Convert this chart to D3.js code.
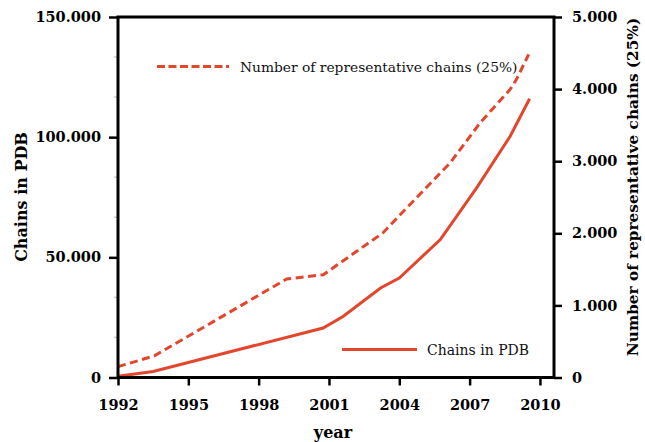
<!DOCTYPE html>
<html><head><meta charset="utf-8">
<script src="https://cdn.jsdelivr.net/npm/d3@7"></script>
<style>html,body{margin:0;padding:0;background:#fff;} svg{display:block;}</style>
</head><body>
<svg id="c" width="645" height="442"></svg>
<script>
// Chains in PDB (left axis)
const pdbYears  = [1992.0, 1993.5, 2000.75, 2001.6, 2003.2, 2004.0, 2005.75, 2007.3, 2008.73, 2009.56];
const pdbValues = [500, 2500, 20600, 25400, 37250, 41400, 57400, 78900, 100400, 116000];
// Number of representative chains (25%) (right axis)
const repYears  = [1992.0, 1993.55, 1999.2, 2000.76, 2003.3, 2004.18, 2006.17, 2007.45, 2008.73, 2009.0, 2009.52];
const repValues = [150, 300, 1367, 1426, 2005, 2306, 2978, 3533, 3996, 4135, 4482];

const xTicks = [1992, 1995, 1998, 2001, 2004, 2007, 2010];
const leftTicks = [0, 50000, 100000, 150000];
const leftMinor = [16667, 33333, 66667, 83333, 116667, 133333];
const rightTicks = [0, 1000, 2000, 3000, 4000, 5000];

const color = "#e2462c";
const svg = d3.select("#c");
const L = 118, R = 554, T = 17, B = 377.5;

const x = d3.scaleLinear().domain([1992, 2010.6]).range([L, R]);
const yL = d3.scaleLinear().domain([0, 150000]).range([B, T]);
const yR = d3.scaleLinear().domain([0, 5000]).range([B, T]);

const loc = d3.formatLocale({decimal: ",", thousands: ".", grouping: [3], currency: ["", ""]});
const fmt = loc.format(",");

const tickFont = "DejaVu Serif";

function styleAxis(g) {
  g.select(".domain").remove();
  g.selectAll(".tick line").attr("stroke", "#000").attr("stroke-width", 2.5);
  g.selectAll(".tick text").attr("font-family", tickFont).attr("font-weight", "bold")
    .attr("font-size", 14.5).attr("fill", "#000");
}

// minor left ticks
svg.append("g").selectAll("line").data(leftMinor).join("line")
  .attr("x1", L - 4).attr("x2", L).attr("y1", d => yL(d)).attr("y2", d => yL(d))
  .attr("stroke", "#ccc").attr("stroke-width", 1.5);

svg.append("g").attr("transform", `translate(${L},0)`)
  .call(d3.axisLeft(yL).tickValues(leftTicks).tickFormat(fmt).tickSize(9).tickPadding(8))
  .call(styleAxis);

svg.append("g").attr("transform", `translate(${R},0)`)
  .call(d3.axisRight(yR).tickValues(rightTicks).tickFormat(fmt).tickSize(8).tickPadding(10))
  .call(styleAxis);

svg.append("g").attr("transform", `translate(0,${B})`)
  .call(d3.axisBottom(x).tickValues(xTicks).tickFormat(d3.format("d")).tickSize(8).tickPadding(14))
  .call(styleAxis);

// lines
const lineL = d3.line().x(d => x(d[0])).y(d => yL(d[1]));
const lineR = d3.line().x(d => x(d[0])).y(d => yR(d[1]));

svg.append("path").datum(repYears.map((y, i) => [y, repValues[i]]))
  .attr("d", lineR).attr("fill", "none").attr("stroke", color).attr("stroke-width", 3)
  .attr("stroke-dasharray", "8,4.5");

svg.append("path").datum(pdbYears.map((y, i) => [y, pdbValues[i]]))
  .attr("d", lineL).attr("fill", "none").attr("stroke", color).attr("stroke-width", 3);

// frame
svg.append("rect").attr("x", L).attr("y", T).attr("width", R - L).attr("height", B - T)
  .attr("fill", "none").attr("stroke", "#000").attr("stroke-width", 3);

// legend
svg.append("line").attr("x1", 157).attr("x2", 229).attr("y1", 66.5).attr("y2", 66.5)
  .attr("stroke", color).attr("stroke-width", 3).attr("stroke-dasharray", "8,3.5");
svg.append("text").attr("x", 240).attr("y", 71.5).text("Number of representative chains (25%)")
  .attr("font-family", tickFont).attr("font-size", 13.8).attr("fill", "#111");

svg.append("line").attr("x1", 342).attr("x2", 417).attr("y1", 349.5).attr("y2", 349.5)
  .attr("stroke", color).attr("stroke-width", 3);
svg.append("text").attr("x", 427).attr("y", 355).text("Chains in PDB")
  .attr("font-family", tickFont).attr("font-size", 14).attr("fill", "#111");

// axis titles
svg.append("text").attr("x", 333).attr("y", 438).attr("text-anchor", "middle").text("year")
  .attr("font-family", tickFont).attr("font-weight", "bold").attr("font-size", 16);
svg.append("text").attr("transform", "translate(27,197) rotate(-90)").attr("text-anchor", "middle")
  .text("Chains in PDB").attr("font-family", tickFont).attr("font-weight", "bold").attr("font-size", 16);
svg.append("text").attr("transform", "translate(638,187) rotate(-90)").attr("text-anchor", "middle")
  .text("Number of representative chains (25%)").attr("font-family", tickFont).attr("font-weight", "bold").attr("font-size", 15.3);
</script>
</body></html>
